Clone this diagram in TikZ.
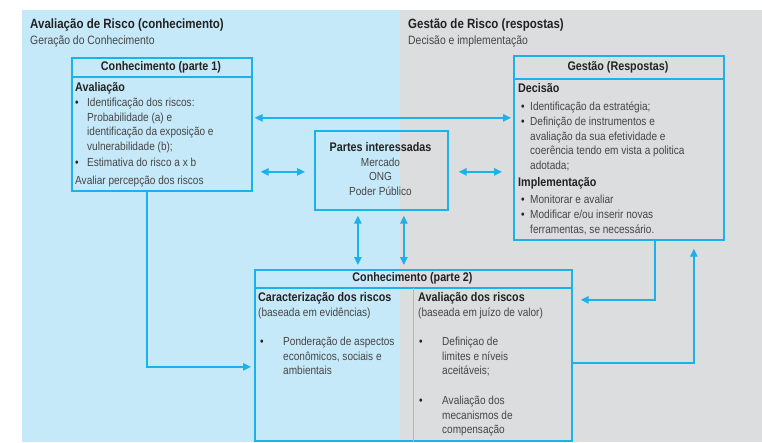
\documentclass[tikz,border=0pt]{standalone}
\usepackage{fontspec}
\setmainfont{Liberation Sans}[FakeStretch=0.86]
\usetikzlibrary{arrows.meta}
\definecolor{azul}{HTML}{1BB1EA}
\definecolor{azulfundo}{HTML}{C6E9F9}
\definecolor{cinzafundo}{HTML}{DCDDDF}
\definecolor{azulclaro}{HTML}{7ACDEE}
\definecolor{texto}{HTML}{454545}
\definecolor{escuro}{HTML}{222222}
\tikzset{>={Triangle[length=8pt,width=7.5pt]}}
\tikzset{caixa/.style={draw=azul, line width=1.7pt, inner sep=0pt, anchor=north west}}
\tikzset{titulo/.style={font=\bfseries\fontsize{12.5}{14}\selectfont, text=escuro, inner sep=0pt}}
\tikzset{corpo/.style={font=\fontsize{11.7}{14.5}\selectfont, text=texto, inner sep=0pt, anchor=base west, align=left}}
\tikzset{ponto/.style={corpo, text=escuro}}
\tikzset{seta/.style={draw=azul, line width=1.4pt}}

\begin{document}
\begin{tikzpicture}[x=1pt, y=-1pt]
\useasboundingbox (0,0) rectangle (762,442);
\fill[azulfundo] (22,10) rectangle (400,442);
\fill[cinzafundo] (400,10) rectangle (762,442);

\node[titulo, font=\bfseries\fontsize{13.4}{15}\selectfont, anchor=base west] (cab1) at (30,28.5) {Avaliação de Risco (conhecimento)};
\node[corpo, font=\fontsize{12.1}{14}\selectfont] (sub1) at (30,44.5) {Geração do Conhecimento};
\node[titulo, font=\bfseries\fontsize{13.4}{15}\selectfont, anchor=base west] (cab2) at (408,28.5) {Gestão de Risco (respostas)};
\node[corpo, font=\fontsize{12.1}{14}\selectfont] (sub2) at (408,44.5) {Decisão e implementação};

% multi-line texts are placed at the baseline of their last line
\node[caixa, minimum width=180pt, minimum height=133pt] (conh1) at (71,57) {};
\draw[azul, line width=1.7pt] ([yshift=-20pt]conh1.north west) -- ([yshift=-20pt]conh1.north east);
\node[titulo] (t1) at (161,67) {Conhecimento (parte 1)};
\node[titulo, anchor=base west] (av1) at (75,91.5) {Avaliação};
\node[ponto] (b11) at (75,106.5) {\textbullet};
\node[corpo] (i11) at (87,150) {Identificação dos riscos:\\Probabilidade (a) e\\identificação da exposição e\\vulnerabilidade (b);};
\node[ponto] (b12) at (75,166.5) {\textbullet};
\node[corpo] (i12) at (87,166.5) {Estimativa do risco a x b};
\node[corpo] (p1) at (75,184.5) {Avaliar percepção dos riscos};

\node[caixa, minimum width=210pt, minimum height=184pt] (gestao) at (513,55) {};
\draw[azul, line width=1.7pt] ([yshift=-24pt]gestao.north west) -- ([yshift=-24pt]gestao.north east);
\node[titulo] (t2) at (618,67) {Gestão (Respostas)};
\node[titulo, anchor=base west] (dec) at (518,92.5) {Decisão};
\node[ponto] (b21) at (521,110.5) {\textbullet};
\node[corpo] (i21) at (530,110.5) {Identificação da estratégia;};
\node[ponto] (b22) at (521,125.5) {\textbullet};
\node[corpo] (i22) at (530,169) {Definição de instrumentos e\\avaliação da sua efetividade e\\coerência tendo em vista a politica\\adotada;};
\node[titulo, anchor=base west] (imp) at (518,186.5) {Implementação};
\node[ponto] (b23) at (521,203.5) {\textbullet};
\node[corpo] (i23) at (530,203.5) {Monitorar e avaliar};
\node[ponto] (b24) at (521,218.5) {\textbullet};
\node[corpo] (i24) at (530,233) {Modificar e/ou inserir novas\\ferramentas, se necessário.};

\node[caixa, minimum width=133pt, minimum height=79pt] (partes) at (314,130) {};
\node[corpo, anchor=base, align=center] (tp) at (380.5,195) {{\bfseries\fontsize{12.5}{14}\selectfont\color{escuro}Partes interessadas}\\Mercado\\ONG\\Poder Público};

\node[caixa, minimum width=317pt, minimum height=171pt] (conh2) at (254,269) {};
\draw[azul, line width=1.7pt] ([yshift=-19pt]conh2.north west) -- ([yshift=-19pt]conh2.north east);
\draw[azulclaro, line width=1pt] ([yshift=-19pt]conh2.north) -- (conh2.south);
\node[titulo] (t3) at (412.5,278) {Conhecimento (parte 2)};
\node[titulo, anchor=base west] (car) at (258,301) {Caracterização dos riscos};
\node[corpo] (bas1) at (258,316) {(baseada em evidências)};
\node[ponto] (b31) at (260,345.5) {\textbullet};
\node[corpo] (i31) at (283,374.5) {Ponderação de aspectos\\econômicos, sociais e\\ambientais};
\node[titulo, anchor=base west] (avr) at (418,301) {Avaliação dos riscos};
\node[corpo] (bas2) at (418,316) {(baseada em juízo de valor)};
\node[ponto] (b32) at (419,345.5) {\textbullet};
\node[corpo] (i32) at (442,374.5) {Definiçao de\\limites e níveis\\aceitáveis;};
\node[ponto] (b33) at (419,404.5) {\textbullet};
\node[corpo] (i33) at (442,433.5) {Avaliação dos\\mecanismos de\\compensação};

\draw[seta, <->, shorten <=2pt, shorten >=2pt] ([yshift=6.5pt]conh1.east) -- ([yshift=6.5pt]conh1.east -| gestao.west);
\draw[seta, <->, shorten <=8pt, shorten >=9pt] ([yshift=-1.5pt]partes.west -| conh1.east) -- ([yshift=-1.5pt]partes.west);
\draw[seta, <->, shorten <=10pt, shorten >=11pt] ([yshift=-1.5pt]partes.east) -- ([yshift=-1.5pt]partes.east -| gestao.west);
\draw[seta, <->, shorten <=5pt, shorten >=4pt] ([xshift=-23.5pt]partes.south) -- ([xshift=-23.5pt]partes.south |- conh2.north);
\draw[seta, <->, shorten <=5pt, shorten >=4pt] ([xshift=22.5pt]partes.south) -- ([xshift=22.5pt]partes.south |- conh2.north);
\draw[seta, ->, shorten >=3pt] ([xshift=-15pt]conh1.south) |- ([yshift=-11.5pt]conh2.west);
\draw[seta, ->, shorten >=8pt] ([xshift=36pt]gestao.south) |- ([yshift=55.5pt]conh2.east);
\draw[seta, ->, shorten >=8pt] ([yshift=-7.5pt]conh2.east) -| ([xshift=75pt]gestao.south);
\end{tikzpicture}
\end{document}
